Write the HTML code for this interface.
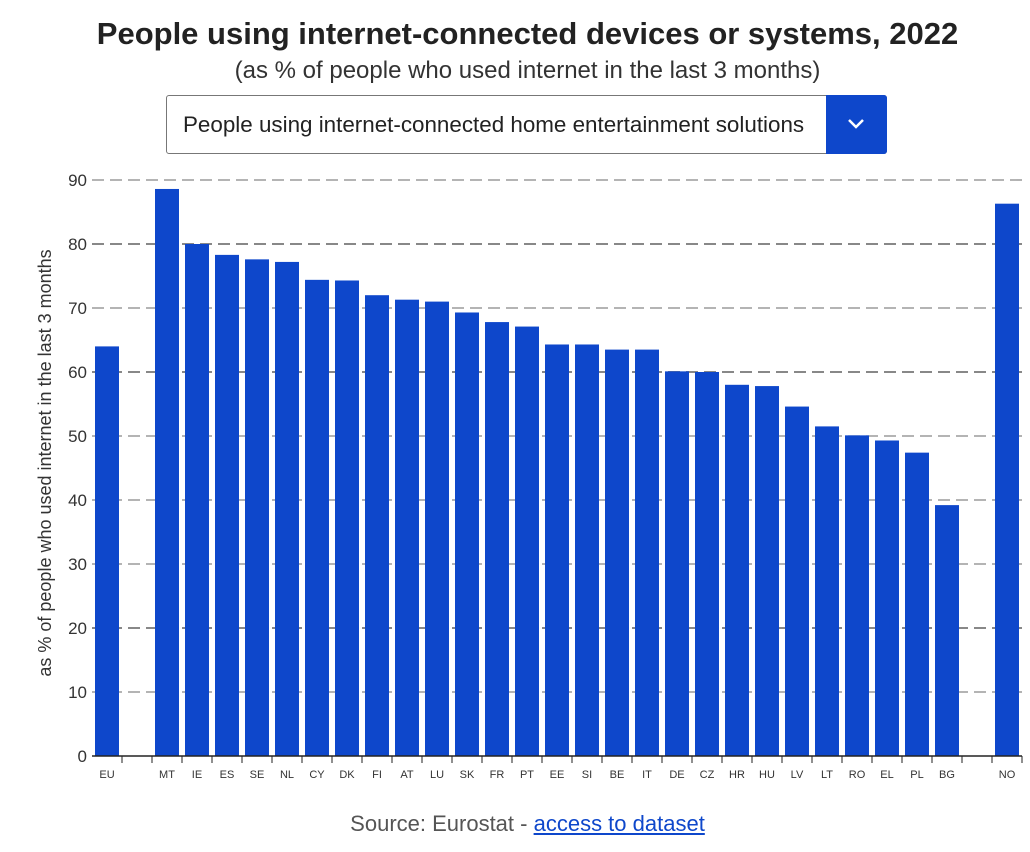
<!DOCTYPE html>
<html><head><meta charset="utf-8"><style>
body{margin:0;background:#fff;font-family:"Liberation Sans",sans-serif;width:1030px;height:852px;overflow:hidden;position:relative}
#title{position:absolute;top:16px;left:0;width:1055px;text-align:center;font-weight:bold;font-size:31px;color:#222}
#sub{position:absolute;top:57px;left:0;width:1055px;text-align:center;font-size:24px;color:#333}
#dd{position:absolute;left:166px;top:95px;width:721px;height:59px;border:1px solid #777;border-radius:3px;box-sizing:border-box;background:#fff}
#dd span{position:absolute;left:16px;top:16px;font-size:22.4px;color:#222}
#btn{position:absolute;right:-1px;top:-1px;width:61px;height:59px;background:#0e47cb;border-radius:0 3px 3px 0}
#src{position:absolute;top:811px;left:0;width:1055px;text-align:center;font-size:22px;color:#555}
#src a{color:#0e47cb;text-decoration:underline}
</style></head><body>
<div id="title">People using internet-connected devices or systems, 2022</div>
<div id="sub">(as % of people who used internet in the last 3 months)</div>
<div id="dd"><span>People using internet-connected home entertainment solutions</span>
<div id="btn"><svg width="61" height="59"><polyline points="23,25 30,32 37,25" fill="none" stroke="#fff" stroke-width="2.5"/></svg></div></div>
<svg id="chart" width="1030" height="852" style="position:absolute;left:0;top:0"></svg>
<div id="src">Source: Eurostat - <a>access to dataset</a></div>
<script>
const categories=["EU","","MT","IE","ES","SE","NL","CY","DK","FI","AT","LU","SK","FR","PT","EE","SI","BE","IT","DE","CZ","HR","HU","LV","LT","RO","EL","PL","BG","","NO"];
const values=[64,null,88.6,80,78.3,77.6,77.2,74.4,74.3,72,71.3,71,69.3,67.8,67.1,64.3,64.3,63.5,63.5,60.1,60,58,57.8,54.6,51.5,50.1,49.3,47.4,39.2,null,86.3];
const ticks=[0,10,20,30,40,50,60,70,80,90];
const NS="http://www.w3.org/2000/svg",svg=document.getElementById('chart');
const x0=92,slot=30,y=v=>756-v*(576/90);
function mk(t,a){const e=document.createElementNS(NS,t);for(const k in a)e.setAttribute(k,a[k]);svg.appendChild(e);return e;}
ticks.forEach(t=>{
 if(t>0){const g=mk('line',{x1:92,x2:1022,y1:y(t),y2:y(t),stroke:'#888','stroke-width':(t==80||t==60||t==20)?2:1.3,'stroke-dasharray':'12,6'});
 
 }
 const l=mk('text',{x:87,y:y(t)+6,'text-anchor':'end','font-size':17,fill:'#333','font-family':'Liberation Sans'});l.textContent=t;
 
 
});
categories.forEach((c,i)=>{
 const v=values[i];
 if(v!=null){const b=mk('rect',{x:x0+i*slot+3,y:y(v),width:24,height:756-y(v),fill:'#0e47cb'});
 
 }
 const tk=mk('line',{x1:x0+(i+1)*slot,x2:x0+(i+1)*slot,y1:756,y2:763,stroke:'#222','stroke-width':1});
 
 
 if(c){const t=mk('text',{x:x0+i*slot+15,y:778,'text-anchor':'middle','font-size':11,fill:'#333','font-family':'Liberation Sans'});t.textContent=c;
 
 }
});
const ax=mk('line',{x1:92,x2:1022,y1:756,y2:756,stroke:'#222','stroke-width':1.5});


const yt=mk('text',{x:0,y:0,transform:'translate(51,463) rotate(-90)','text-anchor':'middle','font-size':18,fill:'#333','font-family':'Liberation Sans'});
yt.textContent='as % of people who used internet in the last 3 months';


</script></body></html>
